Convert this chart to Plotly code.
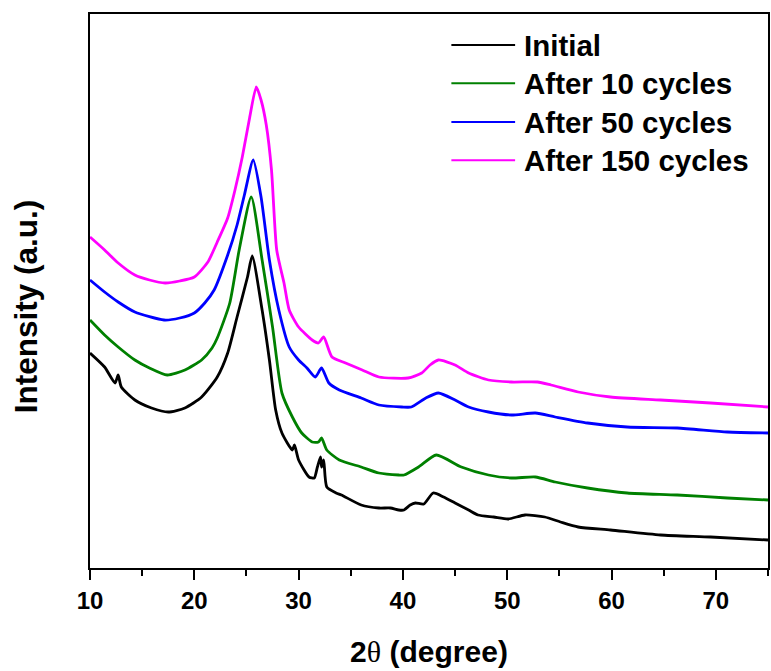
import plotly.graph_objects as go

# ---- data (2theta in degrees, intensity in arbitrary units) ----
names = ["Initial", "After 10 cycles", "After 50 cycles", "After 150 cycles"]
colors = ["#000000", "#008000", "#0000FF", "#FF00FF"]

x_initial = [10.0, 11.4, 12.4, 12.7, 13.0, 14.3, 15.9, 17.5, 19.1, 20.7, 22.2, 23.2, 24.1, 25.1, 25.55,
             26.5, 27.2, 27.8, 28.4, 29.4, 29.6, 30.0, 31.0, 31.5, 31.8, 32.1, 32.2, 32.4, 32.7, 33.6,
             34.1, 36.0, 37.7, 38.8, 39.6, 40.1, 40.7, 41.2, 42.0, 42.9, 43.9, 45.0, 46.3, 47.2, 48.7,
             50.1, 51.7, 53.6, 55.1, 56.8, 59.9, 64.7, 69.5, 75.0]
y_initial = [215, 201, 185, 193, 181, 168, 160, 156, 160, 171, 191, 215, 251, 291, 312,
             258, 208, 158, 135, 118, 123, 108, 91, 90, 101, 111, 101, 108, 81, 75,
             73, 63, 60, 60, 58, 58, 63, 65, 64, 75, 71, 65, 58, 53, 51,
             49, 53, 51, 46, 41, 38, 33, 31, 28]

x_10 = [10.0, 11.4, 12.7, 14.3, 15.7, 17.4, 19.1, 20.7, 21.7, 22.2, 23.4, 24.3, 25.46, 26.5, 27.5,
        28.4, 29.4, 30.3, 31.3, 31.9, 32.2, 32.7, 33.9, 36.0, 37.7, 39.6, 40.1,
        41.5, 43.2, 45.6, 48.2, 50.4, 52.7, 54.6, 57.7, 61.5, 66.3, 71.1, 75.0]
y_10 = [248, 233, 221, 208, 200, 193, 198, 208, 220, 230, 265, 318, 371, 308, 241,
        175, 151, 135, 126, 126, 130, 118, 108, 101, 95, 93, 93,
        101, 113, 101, 93, 90, 91, 86, 80, 75, 73, 70, 68]

x_50 = [10.0, 11.4, 12.7, 14.3, 17.1, 18.6, 20.0, 21.0, 21.9, 23.2, 24.1, 24.8, 25.65, 26.4, 27.2,
        28.1, 29.1, 30.0, 30.8, 31.6, 32.2, 32.9, 33.9, 36.0, 37.7, 39.9, 40.8, 42.2, 43.4, 45.0,
        46.3, 48.2, 50.4, 52.7, 54.6, 57.7, 61.5, 66.3, 71.1, 75.0]
y_50 = [288, 276, 266, 256, 248, 250, 255, 265, 278, 313, 343, 373, 408, 371, 308,
        258, 221, 208, 200, 191, 200, 185, 178, 170, 163, 161, 161, 170, 175, 168,
        161, 156, 153, 155, 151, 145, 141, 140, 136, 135]

x_150 = [10.0, 11.4, 12.7, 14.3, 15.7, 17.2, 18.6, 20.0, 21.3, 22.2, 23.2, 23.9, 24.6, 25.3, 25.94,
         26.4, 26.9, 27.4, 27.9, 28.6, 29.1, 30.0, 31.3, 31.9, 32.4, 33.2, 34.5, 36.1, 37.7, 40.5,
         41.8, 42.6, 43.4, 45.0, 46.3, 48.2, 50.4, 52.9, 54.2, 56.8, 59.9, 64.7, 69.5, 75.0]
y_150 = [331, 318, 305, 293, 288, 285, 287, 291, 306, 326, 350, 378, 411, 450, 481,
         468, 443, 398, 318, 285, 258, 241, 228, 225, 231, 211, 205, 198, 191, 190,
         195, 203, 208, 203, 195, 188, 186, 186, 183, 176, 171, 168, 165, 161]

xs = [x_initial, x_10, x_50, x_150]
ys = [y_initial, y_10, y_50, y_150]

x_range = [10, 75]
y_range = [0, 554]
x_tick_vals = [10, 20, 30, 40, 50, 60, 70]

FONT = "Liberation Sans, Arial, sans-serif"

fig = go.Figure()
for n, c, x, y in zip(names, colors, xs, ys):
    fig.add_trace(go.Scatter(x=x, y=y, mode="lines", name=n,
                             line=dict(color=c, width=2.8, shape="spline", smoothing=0.6),
                             showlegend=False))

# custom legend (long line samples, like the original)
leg_y = [0.944, 0.875, 0.805, 0.736]
for n, c, ly in zip(names, colors, leg_y):
    fig.add_shape(type="line", xref="paper", yref="paper", x0=0.533, x1=0.627, y0=ly, y1=ly,
                  line=dict(color=c, width=2))
    fig.add_annotation(x=0.637, y=ly, xref="paper", yref="paper", text=n, showarrow=False,
                       xanchor="left", yanchor="middle",
                       font=dict(family=FONT, size=29.5, color="black", weight="bold"))

fig.add_annotation(x=-0.094, y=0.473, xref="paper", yref="paper", text="Intensity (a.u.)",
                   showarrow=False, textangle=-90, xanchor="center", yanchor="middle",
                   font=dict(family=FONT, size=31.5, color="black", weight="bold"))

fig.update_layout(
    width=771, height=671,
    margin=dict(l=90, r=1, t=14, b=103),
    paper_bgcolor="white", plot_bgcolor="white",
    xaxis=dict(range=x_range, tickvals=x_tick_vals, ticks="outside", ticklen=10, tickwidth=2,
               tickcolor="black", showline=True, linecolor="black", linewidth=2, mirror=True,
               showgrid=False, zeroline=False,
               tickfont=dict(family=FONT, size=24, color="black", weight="bold"),
               minor=dict(dtick=5, tick0=10, ticks="outside", ticklen=6, tickwidth=2, tickcolor="black",
                          showgrid=False),
               title=dict(text="2<span style='font-family:Liberation Serif, Times New Roman, serif;font-weight:normal'>θ</span> (degree)",
                          standoff=28,
                          font=dict(family=FONT, size=30, color="black", weight="bold"))),
    yaxis=dict(range=y_range, showticklabels=False, ticks="", showline=True, linecolor="black",
               linewidth=2, mirror=True, showgrid=False, zeroline=False),
)

fig.write_html("out.html")
